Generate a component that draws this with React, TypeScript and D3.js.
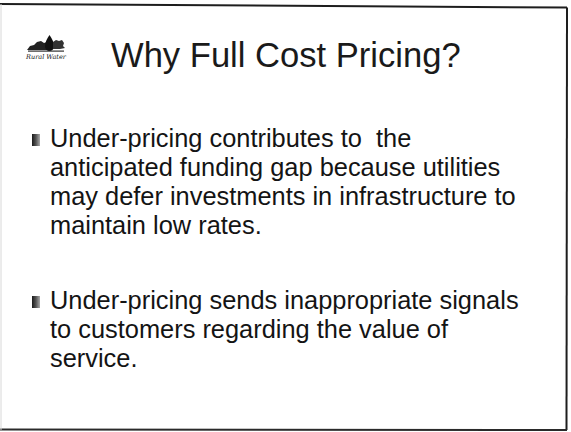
import React from "react";
import * as d3 from "d3";

const titleText = "Why Full Cost Pricing?";
const bullet1Lines = [
  "Under-pricing contributes to  the",
  "anticipated funding gap because utilities",
  "may defer investments in infrastructure to",
  "maintain low rates.",
];
const bullet2Lines = [
  "Under-pricing sends inappropriate signals",
  "to customers regarding the value of",
  "service.",
];
const logoText = "Rural Water";

const W = 571;
const H = 432;
const FONT = "'Liberation Sans', Arial, Helvetica, sans-serif";

export default function App() {
  const lineY = d3.scaleLinear().domain([0, 1]).range([0, 29]);
  const b1Top = 147;
  const b2Top = 309;
  const renderBlock = (lines: string[], top: number, key: string) => (
    <g key={key}>
      <rect x={32} y={top - 13} width={8} height={12} fill="url(#bulletGrad)" />
      {lines.map((l, i) => (
        <text
          key={i}
          x={50}
          y={top + lineY(i)}
          fontFamily={FONT}
          fontSize={25.4}
          fill="#141414"
          style={{ whiteSpace: "pre" }}
        >
          {l}
        </text>
      ))}
    </g>
  );
  return (
    <div style={{ position: "absolute", left: 0, top: 0, width: W, height: H, background: "#fff" }}>
      <svg width={W} height={H} style={{ display: "block" }}>
        <defs>
          <linearGradient id="bulletGrad" x1="0" x2="1" y1="0" y2="0">
            <stop offset="0" stopColor="#1a1a1a" />
            <stop offset="0.5" stopColor="#555" />
            <stop offset="1" stopColor="#aaa" />
          </linearGradient>
        </defs>
        <rect x={0} y={0} width={W} height={H} fill="#fff" />
        {/* frame */}
        <line x1={0} y1={4} x2={567} y2={7.5} stroke="#1e1e1e" strokeWidth={2} />
        <line x1={567} y1={7.5} x2={566.5} y2={430} stroke="#1e1e1e" strokeWidth={2} />
        <line x1={0} y1={429.5} x2={567} y2={430} stroke="#2a2a2a" strokeWidth={2} />
        <line x1={1} y1={4} x2={1} y2={430} stroke="#d8d8d8" strokeWidth={1} />
        {/* logo */}
        <g>
          <path d="M27,50 L30,46 L34,45 L37,42 L41,41 L44,43 L47,42 L47,50 Z" fill="#222" />
          <path d="M49.5,35 C47,39 45,42 45,46 C45,49 47,51 49.5,51 C52,51 54,49 54,46 C54,42 52,39 49.5,35 Z" fill="#111" />
          <path d="M53,49 L53,42 L56,40 L59,41 L62,40 L64,43 L63,46 L65,48 L60,49 Z" fill="#333" />
          <rect x={28} y={50.5} width={36} height={1.2} fill="#333" />
          <text x={46} y={58.5} textAnchor="middle" fontFamily="'DejaVu Serif', serif" fontStyle="italic" fontSize={6.5} fill="#111">
            {logoText}
          </text>
        </g>
        {/* title */}
        <text x={111} y={67} fontFamily={FONT} fontSize={34.6} fill="#1a1a1a">
          {titleText}
        </text>
        {renderBlock(bullet1Lines, b1Top, "b1")}
        {renderBlock(bullet2Lines, b2Top, "b2")}
      </svg>
    </div>
  );
}
